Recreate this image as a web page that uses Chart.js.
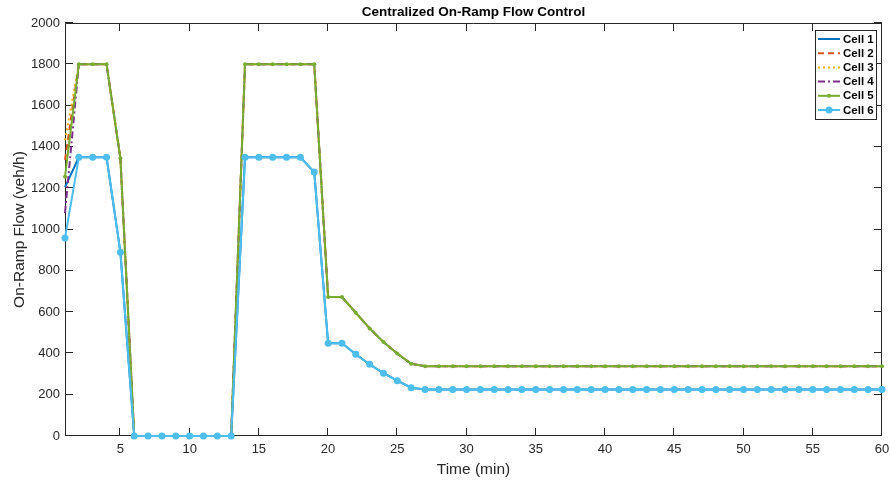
<!DOCTYPE html>
<html>
<head>
<meta charset="utf-8">
<script src="https://cdn.jsdelivr.net/npm/chart.js@4"></script>
<style>
  html, body { margin: 0; padding: 0; background: #fff; }
  #wrap { width: 890px; height: 485px; }
</style>
</head>
<body>
<div id="wrap"><canvas id="flowChart" width="890" height="485"></canvas></div>
<script>
// time steps (min)
const timeMin = [1, 2, 3, 4, 5, 6, 7, 8, 9, 10, 11, 12, 13, 14, 15, 16, 17, 18, 19, 20,
  21, 22, 23, 24, 25, 26, 27, 28, 29, 30, 31, 32, 33, 34, 35, 36, 37, 38, 39, 40,
  41, 42, 43, 44, 45, 46, 47, 48, 49, 50, 51, 52, 53, 54, 55, 56, 57, 58, 59, 60];

// on-ramp flow per cell (veh/h)
const cell1 = [1205, 1350, 1350, 1350, 890, 0, 0, 0, 0, 0, 0, 0, 0, 1350, 1350, 1350, 1350, 1350, 1278, 449,
  449, 396, 347, 304, 268, 234, 225, 225, 225, 225, 225, 225, 225, 225, 225, 225, 225, 225, 225, 225,
  225, 225, 225, 225, 225, 225, 225, 225, 225, 225, 225, 225, 225, 225, 225, 225, 225, 225, 225, 225];
const cell2 = [1337, 1800, 1800, 1800, 1345, 0, 0, 0, 0, 0, 0, 0, 0, 1800, 1800, 1800, 1800, 1800, 1800, 673,
  673, 597, 521, 455, 399, 350, 338, 338, 338, 338, 338, 338, 338, 338, 338, 338, 338, 338, 338, 338,
  338, 338, 338, 338, 338, 338, 338, 338, 338, 338, 338, 338, 338, 338, 338, 338, 338, 338, 338, 338];
const cell3 = [1433, 1800, 1800, 1800, 1345, 0, 0, 0, 0, 0, 0, 0, 0, 1800, 1800, 1800, 1800, 1800, 1800, 673,
  673, 597, 521, 455, 399, 350, 338, 338, 338, 338, 338, 338, 338, 338, 338, 338, 338, 338, 338, 338,
  338, 338, 338, 338, 338, 338, 338, 338, 338, 338, 338, 338, 338, 338, 338, 338, 338, 338, 338, 338];
const cell4 = [1080, 1800, 1800, 1800, 1345, 0, 0, 0, 0, 0, 0, 0, 0, 1800, 1800, 1800, 1800, 1800, 1800, 673,
  673, 597, 521, 455, 399, 350, 338, 338, 338, 338, 338, 338, 338, 338, 338, 338, 338, 338, 338, 338,
  338, 338, 338, 338, 338, 338, 338, 338, 338, 338, 338, 338, 338, 338, 338, 338, 338, 338, 338, 338];
const cell5 = [1255, 1800, 1800, 1800, 1345, 0, 0, 0, 0, 0, 0, 0, 0, 1800, 1800, 1800, 1800, 1800, 1800, 673,
  673, 597, 521, 455, 399, 350, 338, 338, 338, 338, 338, 338, 338, 338, 338, 338, 338, 338, 338, 338,
  338, 338, 338, 338, 338, 338, 338, 338, 338, 338, 338, 338, 338, 338, 338, 338, 338, 338, 338, 338];
const cell6 = [959, 1350, 1350, 1350, 890, 0, 0, 0, 0, 0, 0, 0, 0, 1350, 1350, 1350, 1350, 1350, 1278, 449,
  449, 396, 347, 304, 268, 234, 225, 225, 225, 225, 225, 225, 225, 225, 225, 225, 225, 225, 225, 225,
  225, 225, 225, 225, 225, 225, 225, 225, 225, 225, 225, 225, 225, 225, 225, 225, 225, 225, 225, 225];

const cellNames = ["Cell 1", "Cell 2", "Cell 3", "Cell 4", "Cell 5", "Cell 6"];
const xTicks = [5, 10, 15, 20, 25, 30, 35, 40, 45, 50, 55, 60];
const yTicks = [0, 200, 400, 600, 800, 1000, 1200, 1400, 1600, 1800, 2000];

const ink = "#262626";
const fontFamily = "'Liberation Sans', Arial, Helvetica, sans-serif";

const styles = [
  { color: "#0072BD", dash: [], radius: 0 },
  { color: "#D95319", dash: [6, 4], radius: 0 },
  { color: "#EDB120", dash: [2, 3], radius: 0 },
  { color: "#7E2F8E", dash: [7, 3, 2, 3], radius: 0 },
  { color: "#77AC30", dash: [], radius: 2 },
  { color: "#4DBEEE", dash: [], radius: 3.5 },
];

const allCells = [cell1, cell2, cell3, cell4, cell5, cell6];

const datasets = allCells.map((vals, i) => ({
  label: cellNames[i],
  data: timeMin.map((t, k) => ({ x: t, y: vals[k] })),
  borderColor: styles[i].color,
  backgroundColor: styles[i].color,
  borderWidth: 2,
  borderDash: styles[i].dash,
  pointRadius: styles[i].radius,
  pointBorderWidth: 0,
  pointBackgroundColor: styles[i].color,
  tension: 0,
  clip: false,
  order: allCells.length - i,
}));

// box, inward ticks, title and legend like the matlab figure
const matlabFrame = {
  id: "matlabFrame",
  beforeDatasetsDraw(chart) {
    const { ctx, chartArea: a, scales } = chart;
    ctx.save();
    ctx.strokeStyle = ink;
    ctx.lineWidth = 1;
    ctx.beginPath();
    ctx.rect(a.left + 0.5, a.top + 0.5, a.right - a.left - 1, a.bottom - a.top - 1);
    xTicks.forEach(v => {
      const px = Math.round(scales.x.getPixelForValue(v)) - 0.5;
      ctx.moveTo(px, a.bottom);
      ctx.lineTo(px, a.bottom - 8);
      ctx.moveTo(px, a.top);
      ctx.lineTo(px, a.top + 8);
    });
    yTicks.forEach(v => {
      const py = Math.round(scales.y.getPixelForValue(v)) - 0.5;
      ctx.moveTo(a.left, py);
      ctx.lineTo(a.left + 8, py);
      ctx.moveTo(a.right, py);
      ctx.lineTo(a.right - 8, py);
    });
    ctx.stroke();
    ctx.restore();
  },
  afterDraw(chart) {
    const { ctx, chartArea: a } = chart;
    ctx.save();
    // title
    ctx.fillStyle = "#000";
    ctx.font = "bold 13.5px " + fontFamily;
    ctx.textAlign = "center";
    ctx.textBaseline = "middle";
    ctx.fillText("Centralized On-Ramp Flow Control", (a.left + a.right) / 2, 12);

    // legend
    const boxW = 62, boxH = 90;
    const bx = a.right - 5 - boxW, by = a.top + 7;
    ctx.fillStyle = "#fff";
    ctx.fillRect(bx, by, boxW, boxH);
    ctx.strokeStyle = ink;
    ctx.lineWidth = 1;
    ctx.strokeRect(bx + 0.5, by + 0.5, boxW - 1, boxH - 1);
    ctx.font = "bold 11.5px " + fontFamily;
    ctx.textAlign = "left";
    cellNames.forEach((name, i) => {
      const ry = by + 9 + i * 14.2;
      const st = styles[i];
      ctx.strokeStyle = st.color;
      ctx.lineWidth = 2;
      ctx.setLineDash(st.dash);
      ctx.beginPath();
      ctx.moveTo(bx + 3, ry);
      ctx.lineTo(bx + 25, ry);
      ctx.stroke();
      ctx.setLineDash([]);
      if (st.radius > 0) {
        ctx.fillStyle = st.color;
        ctx.beginPath();
        ctx.arc(bx + 14, ry, st.radius, 0, Math.PI * 2);
        ctx.fill();
      }
      ctx.fillStyle = "#000";
      ctx.fillText(name, bx + 28, ry + 0.5);
    });
    ctx.restore();
  },
};

Chart.defaults.font.family = fontFamily;
Chart.defaults.color = ink;

new Chart(document.getElementById("flowChart"), {
  type: "line",
  data: { datasets: datasets },
  options: {
    responsive: false,
    animation: false,
    events: [],
    layout: { padding: { top: 23, right: 8, left: 0, bottom: 0 } },
    plugins: {
      legend: { display: false },
      title: { display: false },
      tooltip: { enabled: false },
    },
    scales: {
      x: {
        type: "linear",
        min: 1,
        max: 60,
        grid: { display: false, drawTicks: false },
        border: { display: false },
        afterBuildTicks: scale => { scale.ticks = xTicks.map(v => ({ value: v })); },
        afterFit: scale => { scale.height = 49; scale.paddingRight = 0; scale.paddingLeft = 0; },
        ticks: { font: { size: 13 }, padding: 6, maxRotation: 0, autoSkip: false, color: ink,
          callback: v => String(v) },
        title: { display: true, text: "Time (min)", font: { size: 15.5 }, padding: { top: 0, bottom: 6 }, color: ink },
      },
      y: {
        min: 0,
        max: 2000,
        grid: { display: false, drawTicks: false },
        border: { display: false },
        afterBuildTicks: scale => { scale.ticks = yTicks.map(v => ({ value: v })); },
        afterFit: scale => { scale.width = 65; scale.paddingTop = 0; scale.paddingBottom = 0; },
        ticks: { font: { size: 13 }, padding: 5, color: ink, callback: v => String(v) },
        title: { display: true, text: "On-Ramp Flow (veh/h)", font: { size: 15.5 }, padding: { top: 10, bottom: 0 }, color: ink },
      },
    },
  },
  plugins: [matlabFrame],
});
</script>
</body>
</html>
